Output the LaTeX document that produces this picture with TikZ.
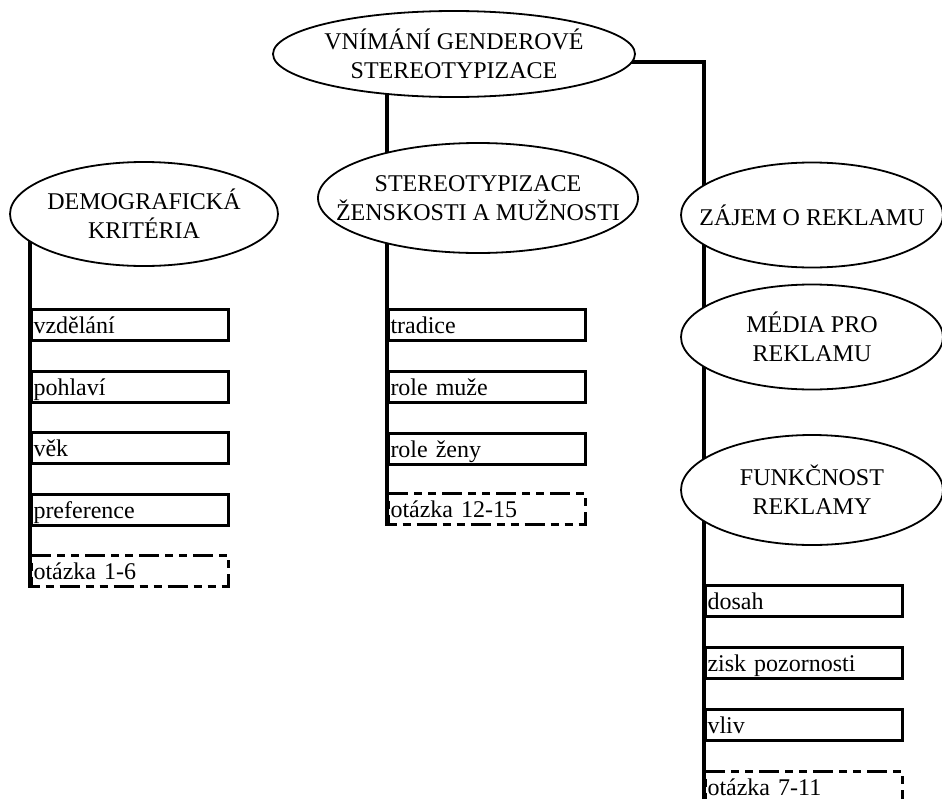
\documentclass[tikz,border=0pt]{standalone}
\usepackage{fontspec}
\setmainfont{Liberation Serif}
\usetikzlibrary{shapes.geometric, backgrounds}

\tikzset{
  oval/.style={ellipse, draw, line width=1.8pt, fill=white, inner xsep=-30pt, inner ysep=0pt,
    align=center, font=\fontsize{24}{29}\selectfont},
  itembox/.style={draw, line width=3pt, anchor=north west, minimum height=31pt, text width=193pt,
    inner xsep=2pt, inner ysep=0pt, align=left, text height=18pt, text depth=1pt,
    font=\fontsize{24}{29}\selectfont},
  qbox/.style={itembox, dash pattern=on 8pt off 6pt on 8pt off 6pt on 20pt off 6pt},
  trunk/.style={line width=4pt}
}

\begin{document}
\begin{tikzpicture}[x=1pt, y=-1pt]
  \useasboundingbox (0,0) rectangle (942,798);

  % Ellipses
  \node[oval, minimum width=362pt, minimum height=86pt]  (vgs)  at (454,54)  {VNÍMÁNÍ GENDEROVÉ\\STEREOTYPIZACE};
  \node[oval, minimum width=268pt, minimum height=104pt] (demo) at (144,214) {DEMOGRAFICKÁ\\KRITÉRIA};
  \node[oval, minimum width=320pt, minimum height=110pt] (stz)  at (478,198) {STEREOTYPIZACE\\ŽENSKOSTI A MUŽNOSTI};
  \node[oval, minimum width=262pt, minimum height=105pt] (zaj)  at (812,215) {ZÁJEM O REKLAMU};
  \node[oval, minimum width=262pt, minimum height=105pt] (med)  at (812,337) {MÉDIA PRO\\REKLAMU};
  \node[oval, minimum width=262pt, minimum height=110pt] (fun)  at (812,490) {FUNKČNOST\\REKLAMY};

  % Item boxes
  \foreach \txt [count=\i] in {vzdělání, pohlaví, věk, preference}
    \node[itembox] (dk\i) at (30, 246.5+61.5*\i) {\txt};
  \node[qbox] (dkq) at (30,554) {otázka 1-6};

  \foreach \txt [count=\i] in {tradice, role muže, role ženy}
    \node[itembox] (sz\i) at (387, 246+62*\i) {\txt};
  \node[qbox] (szq) at (387,492) {otázka 12-15};

  \foreach \txt [count=\i] in {dosah, zisk pozornosti, vliv}
    \node[itembox] (fr\i) at (704, 522+62*\i) {\txt};
  \node[qbox] (frq) at (704,770) {otázka 7-11};

  % Trunk lines
  \begin{scope}[on background layer]
    \draw[trunk] (dk1.north west |- demo.center) -- (dkq.south west);
    \draw[trunk] (sz1.north west |- vgs.center) -- (szq.south west);
    \draw[trunk] ([yshift=-8pt]vgs.center) -| (frq.south west);
  \end{scope}
\end{tikzpicture}
\end{document}
